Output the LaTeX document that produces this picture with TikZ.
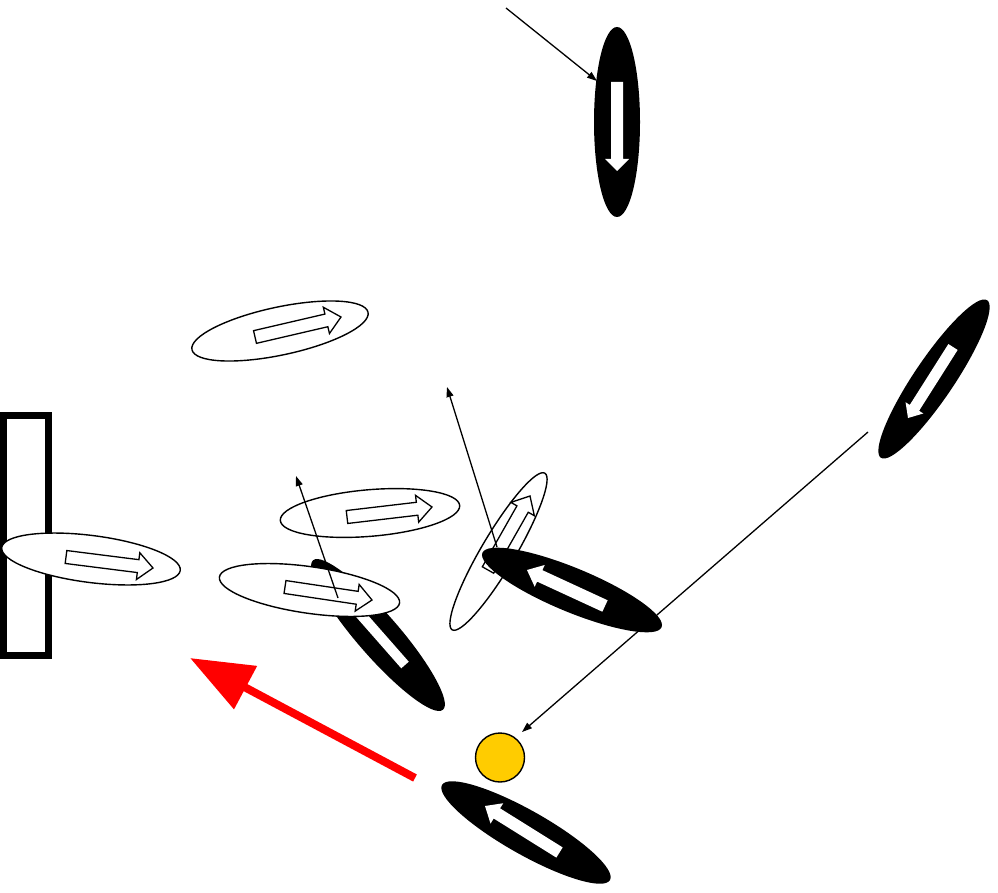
\documentclass[tikz,border=0pt]{standalone}
\usetikzlibrary{arrows.meta,calc,shapes.geometric}
\definecolor{gold}{HTML}{FFCC00}
\tikzset{
  blackell/.style={ellipse, fill=black, inner sep=0pt, outer sep=0pt},
  whiteell/.style={ellipse, draw=black, fill=white, line width=1.4pt, inner sep=0pt, outer sep=0pt},
  hollowarrow/.style={draw=black, fill=white, line width=1.3pt, line join=miter},
  solidwhite/.style={fill=white},
  thinarrow/.style={draw=black, line width=1.3pt, -{Triangle[length=10pt,width=7pt]}},
  bigred/.style={draw=red, line width=8pt, -{Triangle[length=63pt,width=47pt]}},
}
% block arrow: #1 tail, #2 tip, #3 shaft half width, #4 head half width, #5 head length, #6 style
\newcommand\barrow[6]{%
  \path[#6] ($(#1)!#3!-90:(#2)$) -- ($(#2)!#5!(#1)!#3!-90:(#2)$) -- ($(#2)!#5!(#1)!#4!-90:(#2)$)
    -- (#2) -- ($(#2)!#5!(#1)!#4!90:(#2)$) -- ($(#2)!#5!(#1)!#3!90:(#2)$) -- ($(#1)!#3!90:(#2)$) -- cycle;}
\begin{document}
\begin{tikzpicture}[x=1pt,y=-1pt]
\useasboundingbox (0,0) rectangle (998,893);

% top black ellipse
\node[blackell, minimum width=190pt, minimum height=46pt, rotate=90] (e1) at (617,122) {};
\barrow{617,82}{617,171}{6pt}{12pt}{12pt}{solidwhite}
\coordinate (t1a) at (506,8); \coordinate (t1b) at (597,81);
\draw[thinarrow] (t1a) -- (t1b);

% upper-left white ellipse
\node[whiteell, minimum width=180pt, minimum height=48pt, rotate=12] (e2) at (280,331) {};
\barrow{255,337}{341,317}{6.5pt}{13.5pt}{15pt}{hollowarrow}

% right black ellipse
\node[blackell, minimum width=190pt, minimum height=40pt, rotate=56] (e3) at (934,379) {};
\barrow{953,347}{908,418}{5.5pt}{10.5pt}{12pt}{solidwhite}

% left bar
\draw[line width=7pt] (3.5,415.5) rectangle (48,655.5);
\node[whiteell, minimum width=180pt, minimum height=47pt, rotate=-7.3] (e4) at (91,559) {};
\barrow{66,557}{153,568}{6.5pt}{13.5pt}{15pt}{hollowarrow}

% middle upper white ellipse
\node[whiteell, minimum width=180pt, minimum height=46.6pt, rotate=4.8] (e5) at (370,513) {};
\barrow{347,517}{432,507}{6.5pt}{13.5pt}{15pt}{hollowarrow}

% tilted black ellipse
\node[blackell, minimum width=198pt, minimum height=42pt, rotate=-49] (e6) at (378,635) {};
\barrow{405,665}{347,599}{5pt}{11pt}{14pt}{solidwhite}

% lower-left white ellipse
\node[whiteell, minimum width=182pt, minimum height=46.6pt, rotate=-8.2] (e7) at (309.5,590) {};
\barrow{285,587}{372,600}{6.5pt}{13.5pt}{15pt}{hollowarrow}
\coordinate (t2a) at (338,598); \coordinate (t2b) at (296,476);
\draw[thinarrow] (t2a) -- (t2b);

% steep thin white ellipse
\node[whiteell, minimum width=182pt, minimum height=34pt, rotate=59.4] (e8) at (498.5,551.5) {};
\barrow{488,570}{530,496}{6.5pt}{13.5pt}{15pt}{hollowarrow}

% black ellipse middle right
\node[blackell, minimum width=194pt, minimum height=44pt, rotate=-22.5] (e9) at (572,590) {};
\barrow{605,606}{527,570}{6.3pt}{12pt}{14pt}{solidwhite}
\coordinate (t3a) at (497,547); \coordinate (t3b) at (447,387);
\draw[thinarrow] (t3a) -- (t3b);

% long thin arrow
\coordinate (t4a) at (868,432); \coordinate (t4b) at (522,732);
\draw[thinarrow] (t4a) -- (t4b);

% yellow ball
\node[circle, draw=black, fill=gold, line width=1.4pt, minimum size=49pt, inner sep=0pt] (ball) at (500,757.5) {};

% bottom black ellipse
\node[blackell, minimum width=193pt, minimum height=44pt, rotate=-29.5] (e10) at (526,832.5) {};
\barrow{559.5,852.5}{485,806}{6pt}{12pt}{14pt}{solidwhite}

% red arrow
\coordinate (ra) at (415,778); \coordinate (rb) at (190,658);
\draw[bigred] (ra) -- (rb);
\end{tikzpicture}
\end{document}
